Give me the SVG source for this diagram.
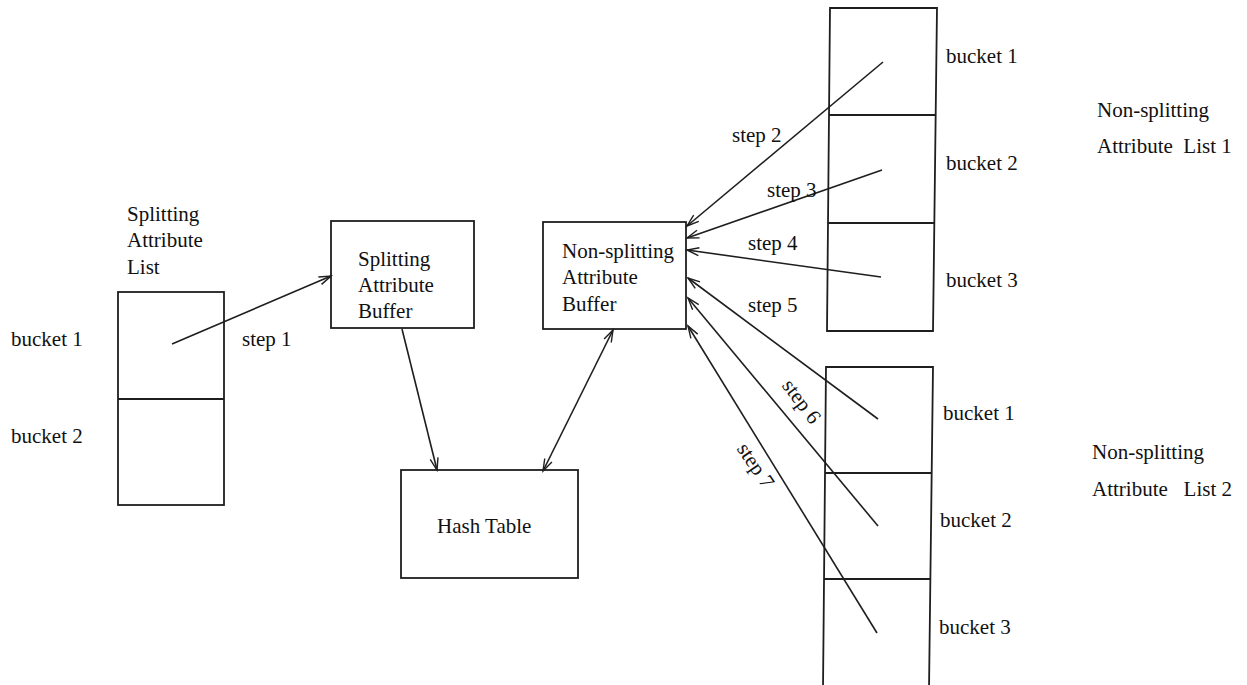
<svg xmlns="http://www.w3.org/2000/svg" width="1247" height="685" viewBox="0 0 1247 685">
  <style>
    .box { fill: none; stroke: #1e1e1e; stroke-width: 1.8; }
    .edge { fill: none; stroke: #1e1e1e; stroke-width: 1.6; }
    text { font-family: "Liberation Serif", "Times New Roman", serif; font-size: 21px; fill: #111; }
  </style>
  <defs>
    <marker id="arrow" markerUnits="userSpaceOnUse" markerWidth="16" markerHeight="12" refX="13" refY="5" orient="auto-start-reverse">
      <path d="M1,1 L13,5 L1,9" fill="none" stroke="#1e1e1e" stroke-width="1.4"/>
    </marker>
  </defs>
  <rect width="1247" height="685" fill="#ffffff"/>

  <!-- Splitting attribute list with two buckets -->
  <g id="splitting-list">
    <rect class="box" x="118" y="292" width="106" height="213"/>
    <line class="box" x1="118" y1="399" x2="224" y2="399"/>
    <text x="127" y="221">Splitting</text>
    <text x="127" y="247">Attribute</text>
    <text x="127" y="274">List</text>
    <text x="11" y="346">bucket 1</text>
    <text x="11" y="443">bucket 2</text>
  </g>

  <g id="splitting-buffer">
    <rect class="box" x="331" y="221" width="143" height="107"/>
    <text x="358" y="266">Splitting</text>
    <text x="358" y="292">Attribute</text>
    <text x="358" y="318">Buffer</text>
  </g>

  <g id="nonsplitting-buffer">
    <rect class="box" x="543" y="222" width="143" height="107"/>
    <text x="562" y="258">Non-splitting</text>
    <text x="562" y="284">Attribute</text>
    <text x="562" y="311">Buffer</text>
  </g>

  <g id="hash-table">
    <rect class="box" x="401" y="470" width="177" height="108"/>
    <text x="437" y="533">Hash Table</text>
  </g>

  <!-- Non-splitting attribute list 1 -->
  <g id="nonsplitting-list-1">
    <path class="box" d="M830,8 L937,8 L933,331 L827,331 Z"/>
    <line class="box" x1="829" y1="115" x2="936" y2="115"/>
    <line class="box" x1="828" y1="223" x2="935" y2="223"/>
    <text x="946" y="63">bucket 1</text>
    <text x="946" y="170">bucket 2</text>
    <text x="946" y="287">bucket 3</text>
    <text x="1097" y="117">Non-splitting</text>
    <text x="1097" y="153" xml:space="preserve">Attribute  List 1</text>
  </g>

  <!-- Non-splitting attribute list 2 (runs off the bottom edge) -->
  <g id="nonsplitting-list-2">
    <path class="box" d="M823,690 L826,367 L933,367 L929,690"/>
    <line class="box" x1="825" y1="473" x2="932" y2="473"/>
    <line class="box" x1="824" y1="579" x2="931" y2="579"/>
    <text x="943" y="420">bucket 1</text>
    <text x="940" y="527">bucket 2</text>
    <text x="939" y="634">bucket 3</text>
    <text x="1092" y="459">Non-splitting</text>
    <text x="1092" y="496" xml:space="preserve">Attribute   List 2</text>
  </g>

  <!-- Connectors -->
  <g id="connectors">
    <line class="edge" x1="172" y1="344" x2="331" y2="276" marker-end="url(#arrow)"/>
    <line class="edge" x1="402" y1="329" x2="437" y2="470" marker-end="url(#arrow)"/>
    <line class="edge" x1="613" y1="330" x2="543" y2="471" marker-start="url(#arrow)" marker-end="url(#arrow)"/>
    <line class="edge" x1="883" y1="62" x2="687" y2="226" marker-end="url(#arrow)"/>
    <line class="edge" x1="882" y1="170" x2="687" y2="238" marker-end="url(#arrow)"/>
    <line class="edge" x1="881" y1="277" x2="687" y2="250" marker-end="url(#arrow)"/>
    <line class="edge" x1="878" y1="419" x2="688" y2="278" marker-end="url(#arrow)"/>
    <line class="edge" x1="878" y1="526" x2="688" y2="298" marker-end="url(#arrow)"/>
    <line class="edge" x1="877" y1="633" x2="688" y2="326" marker-end="url(#arrow)"/>

    <text x="242" y="346">step 1</text>
    <text x="732" y="142">step 2</text>
    <text x="767" y="197">step 3</text>
    <text x="748" y="250">step 4</text>
    <text x="748" y="312">step 5</text>
    <text transform="translate(801,402) rotate(53)" x="0" y="6" text-anchor="middle">step 6</text>
    <text transform="translate(755,466) rotate(56)" x="0" y="6" text-anchor="middle">step 7</text>
  </g>
</svg>
